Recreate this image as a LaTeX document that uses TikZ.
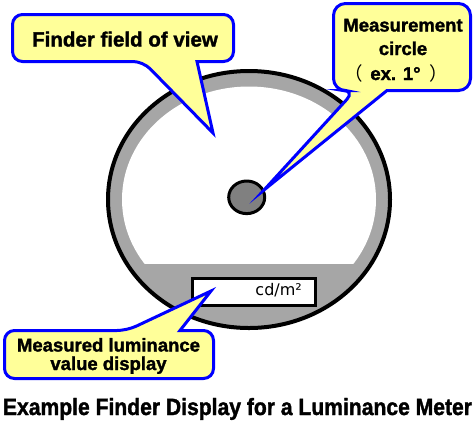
\documentclass[tikz,border=0pt]{standalone}
\usepackage{fontspec}
\usepackage{graphicx}
\usetikzlibrary{shapes.geometric}
\setmainfont{Liberation Sans}[BoldFeatures={FakeBold=1.6}]
\newfontfamily\cjk{Noto Sans CJK SC}
\newfontfamily\dejavu{DejaVu Sans}
\definecolor{ringgray}{RGB}{166,166,166}
\definecolor{dotgray}{RGB}{128,128,128}
\definecolor{calloutyellow}{RGB}{255,255,153}
\definecolor{calloutblue}{RGB}{0,0,255}
\begin{document}
\begin{tikzpicture}[x=1pt,y=-1pt,
  callout/.style={fill=calloutyellow, draw=calloutblue, line width=3pt, line join=miter, miter limit=25},
  bigtext/.style={font=\fontsize{20.5}{24}\selectfont\bfseries, anchor=base, inner sep=0pt},
  midtext/.style={font=\fontsize{18.5}{22}\selectfont\bfseries, anchor=base, inner sep=0pt},
]
\useasboundingbox (0,0) rectangle (476,432);
% finder field
\coordinate (c) at (249,199.5);
\draw[fill=ringgray, line width=4pt] (c) ellipse [x radius=141, y radius=128.5];
\begin{scope}
\clip (100,60) rectangle (400,263);
\fill[white] (c) ellipse [x radius=127, y radius=113];
\end{scope}
\node[ellipse, draw, fill=dotgray, line width=3pt, minimum width=36pt, minimum height=32.6pt, inner sep=0pt] (mc) at (246.7,197.3) {};
\node[draw, fill=white, line width=3pt, minimum width=123.3pt, minimum height=27pt, inner sep=0pt] (disp) at (253.85,291.7) {};
\node[anchor=base east, inner sep=0pt, font=\dejavu\fontsize{16}{18}\selectfont] (unit) at (302,295) {cd/m²};
% callout 1
\coordinate (tip1) at (213,133);
\draw[callout, rounded corners=10pt] (123,14.5) -- (12.5,14.5) -- (12.5,61.5) -- (143,61.5) [sharp corners] -- (tip1) -- (197,61.5) [rounded corners=10pt] -- (233.5,61.5) -- (233.5,14.5) -- cycle;
\node[bigtext] (t1) at (125,46.5) {Finder field of view};
% callout 2
\coordinate (tip2) at (264,190);
\draw[callout, rounded corners=12pt] (402,3.5) -- (333.5,3.5) -- (333.5,90.5) -- (355,90.5) [sharp corners] -- (tip2) -- (387,90.5) [rounded corners=12pt] -- (470.5,90.5) -- (470.5,3.5) -- cycle;
\node[midtext] (t2a) at (403,31.5) {Measurement};
\node[midtext] (t2b) at (403,55) {circle};
\node[midtext] (t2c) at (396.5,80) {{\cjk\mdseries （}\hspace{7pt}ex. 1°\hspace{9pt}{\cjk\mdseries ）}};
% callout 3
\coordinate (tip3) at (211,291);
\draw[callout, rounded corners=10pt] (108,378.5) -- (4.5,378.5) -- (4.5,330.5) -- (127,330.5) [sharp corners] -- (tip3) -- (180,330.5) [rounded corners=10pt] -- (213.5,330.5) -- (213.5,378.5) -- cycle;
\node[midtext] (t3a) at (108.5,351.5) {Measured luminance};
\node[midtext] (t3b) at (108.5,370) {value display};
% title
\node[anchor=base, inner sep=0pt] (title) at (237.5,415) {\resizebox{469pt}{\height}{\fontsize{23.5}{28}\selectfont\bfseries Example Finder Display for a Luminance Meter}};
\end{tikzpicture}
\end{document}
